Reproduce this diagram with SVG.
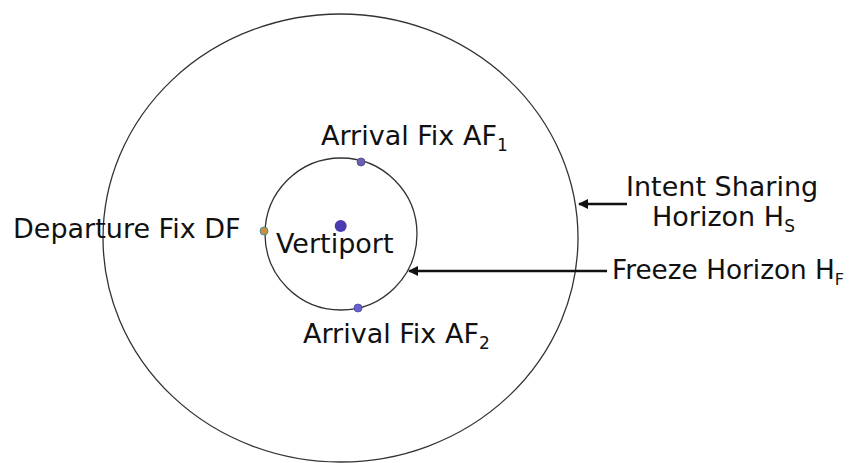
<svg xmlns="http://www.w3.org/2000/svg" width="849" height="463" viewBox="0 0 849 463">
  <style>
    .ring { fill: none; stroke: #333; stroke-width: 1.3; }
    .lbl { font-family: "DejaVu Sans", Verdana, sans-serif; font-size: 27px; fill: #111; }
    .sub { font-size: 17px; }
    .ptr { stroke: #111; stroke-width: 2.5; fill: none; marker-end: url(#head); }
  </style>
  <defs>
    <marker id="head" viewBox="0 0 10 10" refX="9" refY="5" markerWidth="4" markerHeight="4" orient="auto" markerUnits="strokeWidth">
      <path d="M0,0 L10,5 L0,10 z" fill="#111"/>
    </marker>
  </defs>
  <rect width="849" height="463" fill="#fff"/>

  <g id="intent-horizon">
    <ellipse class="ring" cx="340.5" cy="238" rx="237.5" ry="224"/>
    <text class="lbl" x="626" y="196">Intent Sharing</text>
    <text class="lbl" x="652" y="226">Horizon H<tspan class="sub" dy="6">S</tspan></text>
  </g>

  <g id="freeze-horizon">
    <circle class="ring" cx="341" cy="234" r="76"/>
    <text class="lbl" x="612" y="279" style="font-size:26.3px">Freeze Horizon H<tspan class="sub" dy="6" style="font-size:16px">F</tspan></text>
  </g>

  <g id="vertiport">
    <circle cx="340.7" cy="226" r="6" fill="#4a3cb0"/>
    <text class="lbl" x="276" y="253">Vertiport</text>
  </g>

  <g id="arrival-fix-1">
    <circle cx="361" cy="162" r="4" fill="#6a5fb0" stroke="#4a4a7a" stroke-width="0.8"/>
    <text class="lbl" x="321" y="145">Arrival Fix AF<tspan class="sub" dy="6">1</tspan></text>
  </g>

  <g id="arrival-fix-2">
    <circle cx="358" cy="308" r="4" fill="#6a5fd0" stroke="#4a4a9a" stroke-width="0.8"/>
    <text class="lbl" x="303" y="343">Arrival Fix AF<tspan class="sub" dy="6">2</tspan></text>
  </g>

  <g id="departure-fix">
    <circle cx="264" cy="231" r="4" fill="#c8903a" stroke="#4a8a9a" stroke-width="1"/>
    <text class="lbl" x="13" y="238">Departure Fix DF</text>
  </g>

  <g id="connectors">
    <line class="ptr" x1="627" y1="204" x2="579" y2="204"/>
    <line class="ptr" x1="607" y1="271" x2="409" y2="271"/>
  </g>
</svg>
